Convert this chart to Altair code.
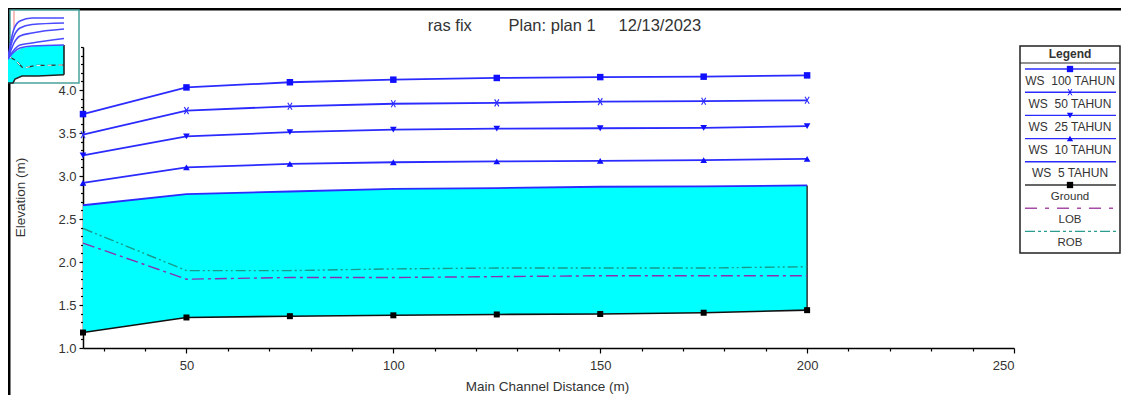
import altair as alt
import pandas as pd

# Main profile
distance = [25, 50, 75, 100, 125, 150, 175, 200]
ws_100 = [3.72, 4.03, 4.09, 4.12, 4.14, 4.15, 4.155, 4.17]
ws_50 = [3.48, 3.76, 3.81, 3.84, 3.85, 3.865, 3.87, 3.88]
ws_25 = [3.24, 3.46, 3.51, 3.54, 3.55, 3.555, 3.56, 3.58]
ws_10 = [2.92, 3.10, 3.14, 3.16, 3.17, 3.175, 3.185, 3.20]
ws_5 = [2.66, 2.79, 2.82, 2.85, 2.86, 2.875, 2.88, 2.89]
ground = [1.18, 1.355, 1.37, 1.38, 1.39, 1.395, 1.41, 1.44]
lob = [2.22, 1.80, 1.82, 1.82, 1.83, 1.84, 1.84, 1.84]
rob = [2.39, 1.90, 1.90, 1.92, 1.93, 1.93, 1.93, 1.945]

# Thumbnail readings (thumbnail's own units)
t_x = [0, 3, 6, 12, 24, 56]
t_100 = [24, 42, 54, 62, 65, 65]
t_50 = [24, 38, 47, 55, 58.5, 60]
t_25 = [24, 33, 40, 47, 50, 54]
t_10 = [24, 29, 33, 38, 40, 44.5]
t_5 = [24, 28, 31, 35, 37, 38]
t_gx = [0, 5, 7, 14, 30, 56]
t_g = [0, 0, 4, 7, 7, 8.3]
t_top = [24, 30, 31, 35, 37.5, 38]
t_bx = [0, 7, 14, 16, 27, 56]
t_b = [27, 23, 16, 15, 17.5, 18]

BLUE = "#2b2bff"
INK = "#333333"
FONT = "Liberation Sans"
W, H = 931, 301

main = pd.DataFrame(dict(d=distance, w100=ws_100, w50=ws_50, w25=ws_25, w10=ws_10,
                         w5=ws_5, g=ground, lob=lob, rob=rob))
thumb = pd.DataFrame(dict(x=t_x, w100=t_100, w50=t_50, w25=t_25, w10=t_10, w5=t_5))
thumb_g = pd.DataFrame(dict(x=t_gx, g=t_g))
thumb_top = pd.DataFrame(dict(x=t_gx, g=t_g, top=t_top))
thumb_b = pd.DataFrame(dict(x=t_bx, b=t_b))
one = pd.DataFrame({"a": [0]})

sx = alt.Scale(domain=[25, 250], range=[0, W], nice=False, zero=False)
sy = alt.Scale(domain=[1.0, 4.5], range=[H, 0], nice=False, zero=False)
X = alt.X("d:Q", scale=sx, axis=None)
def Y(f):
    return alt.Y(f + ":Q", scale=sy, axis=None)

axis_style = dict(domainColor="#000000", domainWidth=1.5, tickColor="#000000", tickWidth=1.2,
                  labelColor=INK, labelFont=FONT, labelFontSize=13, grid=False,
                  titleColor=INK, titleFont=FONT, titleFontSize=13.5, titleFontWeight="normal")

layers = []

# axes: major with labels, minor without
layers.append(alt.Chart(main).mark_line(opacity=0).encode(
    x=alt.X("d:Q", scale=sx, axis=alt.Axis(orient="bottom", values=[50, 100, 150, 200, 250],
            format="d", tickSize=5, labelPadding=6, title="Main Channel Distance (m)",
            titleY=31, titleX=464, **axis_style)),
    y=alt.Y("g:Q", scale=sy, axis=alt.Axis(orient="left", values=[1, 1.5, 2, 2.5, 3, 3.5, 4],
            format=".1f", tickSize=4, labelPadding=3, title="Elevation (m)",
            titleX=-56, titleY=150, titleAngle=270, **axis_style)),
))
x_minor = [30, 40, 60, 70, 80, 90, 110, 120, 130, 140, 160, 170, 180, 190, 210, 220, 230, 240]
y_minor = [1.1, 1.2, 1.3, 1.4, 1.6, 1.7, 1.8, 1.9, 2.1, 2.2, 2.3, 2.4, 2.6, 2.7, 2.8, 2.9,
           3.1, 3.2, 3.3, 3.4, 3.6, 3.7, 3.8, 3.9, 4.1, 4.2, 4.3, 4.4, 4.5]
layers.append(alt.Chart(main).mark_line(opacity=0).encode(
    x=alt.X("d:Q", scale=sx, axis=alt.Axis(orient="bottom", values=x_minor, labels=False, title=None,
            tickSize=3, domain=False, tickColor="#000000", tickWidth=1.2, grid=False)),
    y=alt.Y("g:Q", scale=sy, axis=alt.Axis(orient="left", values=y_minor, labels=False, title=None,
            tickSize=2.5, domain=False, tickColor="#000000", tickWidth=1.2, grid=False)),
))

# water fill, banks, ground
layers.append(alt.Chart(main).mark_area(color="#00FFFF", opacity=1).encode(
    x=X, y=Y("w5"), y2=alt.Y2("g")))
layers.append(alt.Chart(main[main.d == 200]).mark_rule(color="#222222", strokeWidth=1.4).encode(
    x=X, y=Y("w5"), y2=alt.Y2("g")))
layers.append(alt.Chart(main).mark_line(color="#8b2fb0", strokeWidth=1.4, strokeDash=[12, 4, 3, 4]).encode(
    x=X, y=Y("lob")))
layers.append(alt.Chart(main).mark_line(color="#159a8c", strokeWidth=1.4, strokeDash=[10, 3, 2, 3, 2, 3]).encode(
    x=X, y=Y("rob")))
layers.append(alt.Chart(main).mark_line(color="#111111", strokeWidth=1.6).encode(x=X, y=Y("g")))
layers.append(alt.Chart(main).mark_point(shape="square", filled=True, opacity=1, color="#000000", size=36).encode(
    x=X, y=Y("g")))

CROSS = "M-0.6,-1L0.6,1M-0.6,1L0.6,-1"
def water(field, shape, size):
    out = [alt.Chart(main).mark_line(color=BLUE, strokeWidth=1.8).encode(x=X, y=Y(field))]
    if shape == CROSS:
        out.append(alt.Chart(main).mark_point(shape=shape, filled=False, opacity=1, color=BLUE,
                                              strokeWidth=1.1, size=size).encode(x=X, y=Y(field)))
    elif shape:
        out.append(alt.Chart(main).mark_point(shape=shape, filled=True, opacity=1, color="#1010ff",
                                              size=size).encode(x=X, y=Y(field)))
    return out

layers += water("w5", None, 0)
layers += water("w10", "triangle-up", 45)
layers += water("w25", "triangle-down", 45)
layers += water("w50", CROSS, 49)
layers += water("w100", "square", 42)

# window frame and free-standing texts
def hline(x1, x2, y, color, sw):
    return alt.Chart(one).mark_rule(color=color, strokeWidth=sw).encode(
        x=alt.value(x1), x2=alt.value(x2), y=alt.value(y))
def vline(x, y1, y2, color, sw):
    return alt.Chart(one).mark_rule(color=color, strokeWidth=sw).encode(
        x=alt.value(x), y=alt.value(y1), y2=alt.value(y2))
def label(txt, x, y, size=12, weight="normal", color=INK):
    return alt.Chart(one).mark_text(text=txt, font=FONT, fontSize=size, fontWeight=weight,
                                    color=color, align="center", baseline="middle").encode(
        x=alt.value(x), y=alt.value(y))

layers.append(hline(-75, 1038, -38, "#000000", 3))
layers.append(vline(-74, -38, 348, "#000000", 3))
layers.append(label("ras fix\u00a0\u00a0\u00a0\u00a0\u00a0\u00a0\u00a0\u00a0Plan: plan 1\u00a0\u00a0\u00a0\u00a0\u00a012/13/2023",
                    564.5 - 83, 26 - 47, size=16.5))

# thumbnail
layers.append(alt.Chart(one).mark_rect(fill="#ffffff", stroke="#4aa39c", strokeWidth=1.5).encode(
    x=alt.value(-73), x2=alt.value(-4), y=alt.value(-37), y2=alt.value(36)))
tx = alt.Scale(domain=[0, 71], range=[-75, -4], nice=False, zero=False)
ty = alt.Scale(domain=[0, 73], range=[36, -37], nice=False, zero=False)
TX = alt.X("x:Q", scale=tx, axis=None)
def TY(f):
    return alt.Y(f + ":Q", scale=ty, axis=None)
layers.append(vline(-69, -36, -18, "#f4a6a6", 1.5))
layers.append(alt.Chart(thumb_top).mark_area(color="#00FFFF", opacity=1).encode(x=TX, y=TY("top"), y2=alt.Y2("g")))
layers.append(alt.Chart(thumb_g).mark_line(color="#222222", strokeWidth=1.6).encode(x=TX, y=TY("g")))
layers.append(alt.Chart(thumb_top[thumb_top.x == 56]).mark_rule(color="#222222", strokeWidth=1.6).encode(
    x=TX, y=TY("top"), y2=alt.Y2("g")))
layers.append(alt.Chart(thumb_b).mark_line(color="#333333", strokeWidth=1.3, strokeDash=[8, 3]).encode(x=TX, y=TY("b")))
layers.append(alt.Chart(thumb_b).mark_line(color="#ffffff", strokeWidth=1, strokeDash=[4, 7]).encode(x=TX, y=TY("b")))
for f in ["w5", "w10", "w25", "w50", "w100"]:
    layers.append(alt.Chart(thumb).mark_line(color="#4a4aff", strokeWidth=1.6, interpolate="monotone").encode(x=TX, y=TY(f)))

# legend box
lx1, lx2, lxc = 1020 - 83, 1120 - 83, 1070 - 83
layers.append(alt.Chart(one).mark_rect(fill="#ffffff", stroke="#222222", strokeWidth=1.5).encode(
    x=alt.value(lx1), x2=alt.value(lx2), y=alt.value(46 - 47), y2=alt.value(253 - 47)))
layers.append(hline(lx1, lx2, 63 - 47, "#222222", 1.2))
layers.append(label("Legend", lxc, 53.5 - 47, size=12, weight="bold"))

legend_names = ["WS\u00a0\u00a0100 TAHUN", "WS\u00a0\u00a050 TAHUN", "WS\u00a0\u00a025 TAHUN",
                "WS\u00a0\u00a010 TAHUN", "WS\u00a0\u00a05 TAHUN", "Ground", "LOB", "ROB"]
legend_color = [BLUE] * 5 + ["#333333", "#a64ca6", "#2a9d8f"]
legend_dash = [None] * 6 + [[12, 8, 4, 8], [10, 3, 3, 3, 3, 3]]
legend_shape = ["square", CROSS, "triangle-down", "triangle-up", None, "square", None, None]
legend_mark = ["#000000" if i == 5 else "#1010ff" for i in range(8)]
pitch = 23.2
for i, name in enumerate(legend_names):
    ly = 69 - 47 + pitch * i
    kw = dict(strokeDash=legend_dash[i]) if legend_dash[i] else {}
    layers.append(alt.Chart(one).mark_rule(color=legend_color[i], strokeWidth=1.4, **kw).encode(
        x=alt.value(1025 - 83), x2=alt.value(1116 - 83), y=alt.value(ly)))
    shape = legend_shape[i]
    if shape:
        layers.append(alt.Chart(one).mark_point(shape=shape, filled=shape != CROSS, opacity=1,
                                                color=legend_mark[i], size=40, strokeWidth=1).encode(
            x=alt.value(lxc), y=alt.value(ly)))
    layers.append(label(name, lxc, 80.5 - 47 + pitch * i, size=12 if i < 5 else 11.5))

chart = alt.layer(*layers).resolve_scale(x="independent", y="independent").properties(
    width=W, height=H,
    autosize=alt.AutoSizeParams(type="none"),
    padding={"left": 75, "top": 39, "right": 107, "bottom": 47},
    background="#ffffff",
).configure_view(stroke=None)

chart.save("out.html", embed_options={"renderer": "svg", "actions": False})
